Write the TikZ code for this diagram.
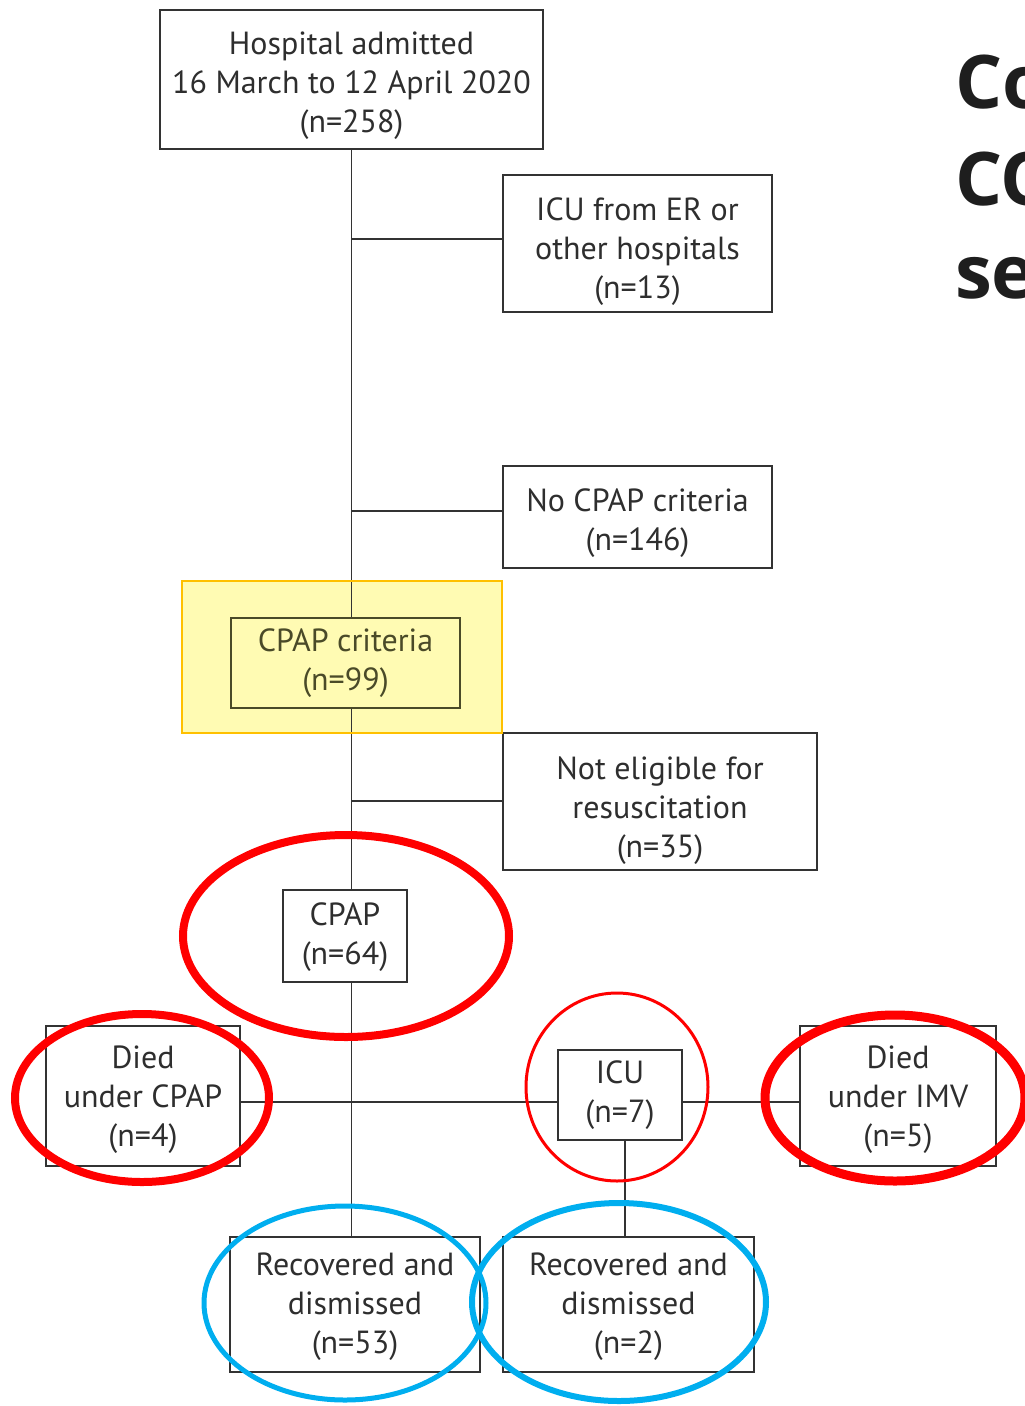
\documentclass[tikz,border=0pt]{standalone}
\usepackage{fontspec}
\setmainfont{PT Sans}
\newfontfamily\headfont{Open Sans}
\definecolor{txt}{HTML}{2E2E2E}
\definecolor{boxline}{HTML}{333333}
\definecolor{critxt}{HTML}{4A4A28}
\definecolor{hlfill}{HTML}{FFFBB3}
\definecolor{hlborder}{HTML}{FFC000}
\definecolor{ringred}{HTML}{FF0000}
\definecolor{ringblue}{HTML}{00AEEF}
\definecolor{headtxt}{HTML}{1E1E1E}
\begin{document}
\begin{tikzpicture}[x=1pt,y=-1pt,
  box/.style={draw=boxline, line width=1.4pt, text=txt, inner sep=0pt, align=center,
    font=\fontsize{32}{39}\selectfont},
  link/.style={draw=boxline, line width=1.4pt},
  redring/.style={draw=ringred},
  bluering/.style={draw=ringblue},
  head/.style={anchor=base west, inner sep=0pt, text=headtxt,
    font=\headfont\bfseries\fontsize{74}{74}\selectfont}]
\useasboundingbox (0,0) rectangle (1025,1406);
\clip (0,0) rectangle (1025,1406);

% highlighted background behind the CPAP criteria step
\fill[hlfill] (182,581) rectangle (502,733);

% flow chart boxes (text height/depth set so the text sits a bit low)
\node[box, text depth=0pt, text height=106pt, minimum width=383pt, minimum height=139pt] (adm) at (351.5,79.5)
  {Hospital admitted\\16 March to 12 April 2020\\(n=258)};
\node[box, text depth=0pt, text height=110pt, minimum width=269pt, minimum height=137pt] (icuer) at (637.5,243.5)
  {ICU from ER or\\other hospitals\\(n=13)};
\node[box, text depth=0pt, text height=66pt, minimum width=269pt, minimum height=102pt] (nocpap) at (637.5,517)
  {No CPAP criteria\\(n=146)};
\node[box, text depth=6pt, minimum width=229pt, minimum height=90pt, text=critxt, draw=critxt] (crit) at (345.5,663)
  {CPAP criteria\\(n=99)};
\node[box, text depth=0pt, text height=112pt, minimum width=314pt, minimum height=137pt] (noteli) at (660,801.5)
  {Not eligible for\\resuscitation\\(n=35)};
\node[box, text depth=5pt, minimum width=124pt, minimum height=92pt] (cpap) at (345,936)
  {CPAP\\(n=64)};
\node[box, text depth=0pt, minimum width=194pt, minimum height=140pt] (diedc) at (143,1096)
  {Died\\under CPAP\\(n=4)};
\node[box, minimum width=124pt, minimum height=90pt] (icu) at (620,1095)
  {ICU\\(n=7)};
\node[box, text depth=0pt, minimum width=196pt, minimum height=140pt] (diedi) at (898,1096)
  {Died\\under IMV\\(n=5)};
\node[box, text depth=2pt, minimum width=250pt, minimum height=135pt] (rec53) at (355,1304.5)
  {Recovered and\\dismissed\\(n=53)};
\node[box, text depth=2pt, minimum width=251pt, minimum height=135pt] (rec2) at (628.5,1304.5)
  {Recovered and\\dismissed\\(n=2)};

% levels of the horizontal connectors
\coordinate (lvlA) at (351,239);
\coordinate (lvlB) at (351,511);
\coordinate (lvlC) at (351,801);
\coordinate (lvlD) at (351,1102);

% main trunk
\draw[link] (adm.south) -- (adm.south |- crit.north);
\draw[link] (adm.south |- crit.south) -- (adm.south |- cpap.north);
\draw[link] (adm.south |- cpap.south) -- (adm.south |- rec53.north);
% side exits
\draw[link] (lvlA) -- (icuer.west |- lvlA);
\draw[link] (lvlB) -- (nocpap.west |- lvlB);
\draw[link] (lvlC) -- (noteli.west |- lvlC);
% outcome row
\draw[link] (diedc.east |- lvlD) -- (icu.west |- lvlD);
\draw[link] (icu.east |- lvlD) -- (diedi.west |- lvlD);
\draw[link] ([xshift=5pt]icu.south) -- ([xshift=5pt]icu.south |- rec2.north);

% frame of the highlighted step
\draw[hlborder, line width=2.2pt] (182,581) rectangle (502,733);

% red rings
\draw[redring, line width=8pt] (346,936) ellipse [x radius=163pt, y radius=101pt];
\draw[redring, line width=8pt] (142,1098) ellipse [x radius=127pt, y radius=84pt];
\draw[redring, line width=3pt] (617,1087) ellipse [x radius=91pt, y radius=94pt];
\draw[redring, line width=9pt] (895,1098) ellipse [x radius=130pt, y radius=83pt];
% blue rings
\draw[bluering, line width=5pt] (345,1303) ellipse [x radius=141pt, y radius=97pt];
\draw[bluering, line width=6pt] (619,1302) ellipse [x radius=147pt, y radius=99pt];

% title at the right edge
\node[head] (t1) at (955,108) {Co};
\node[head] (t2) at (955,205) {CO};
\node[head] (t3) at (955,298) {se};
\end{tikzpicture}
\end{document}
